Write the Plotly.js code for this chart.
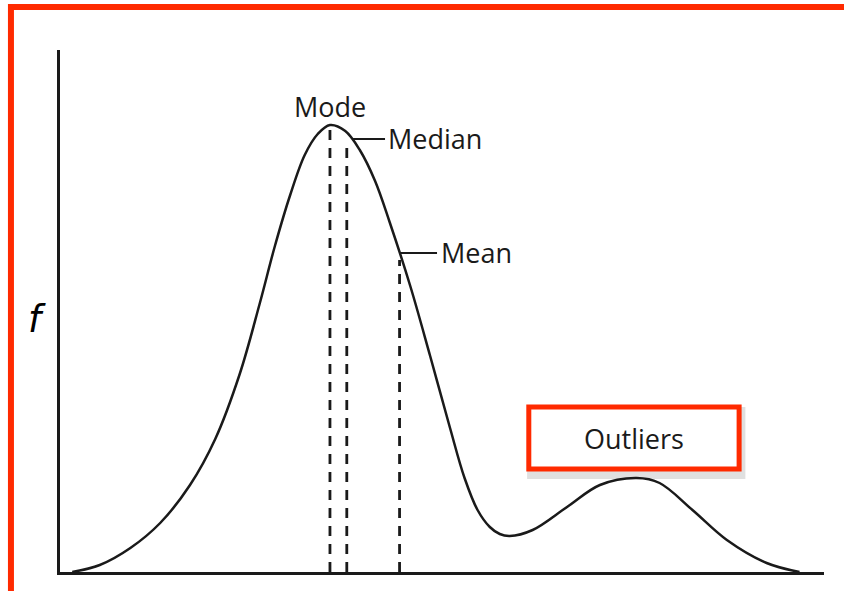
<!DOCTYPE html>
<html>
<head>
<meta charset="utf-8">
<script src="https://cdn.plot.ly/plotly-3.0.1.min.js"></script>
<style>
  html, body { margin: 0; padding: 0; background: #ffffff; }
  #chart { width: 844px; height: 591px; }
</style>
</head>
<body>
<div id="chart"></div>
<script>
// Density curve (x: value, y: density f)
const curveX = [0.16, 0.52, 0.92, 1.31, 1.70, 2.03, 2.35, 2.61, 2.81, 3.01, 3.20, 3.37, 3.53,
                3.73, 3.92, 4.12, 4.31, 4.58, 4.84, 5.10, 5.29, 5.46, 5.62, 5.75, 5.88,
                6.18, 6.63, 7.06, 7.54, 7.84, 8.27, 8.72, 9.24, 9.67];
const curveY = [0.000, 0.007, 0.024, 0.049, 0.087, 0.133, 0.198, 0.268, 0.326, 0.377, 0.417, 0.438, 0.447,
                0.441, 0.422, 0.391, 0.350, 0.286, 0.216, 0.144, 0.094, 0.062, 0.045, 0.038, 0.036,
                0.042, 0.065, 0.087, 0.094, 0.089, 0.062, 0.032, 0.009, 0.000];

// Central-tendency markers
const markerNames = ["Mode", "Median", "Mean"];
const markerX = [3.53, 3.75, 4.44];
const markerTop = [0.445, 0.425, 0.312];

// Label leader lines (Median, Mean)
const medianTickX = [3.82, 4.25];
const medianTickY = [0.433, 0.433];
const meanTickX = [4.44, 4.93];
const meanTickY = [0.319, 0.319];

// Outliers callout box (data coords)
const outlierBoxX = [6.13, 8.88];
const outlierBoxY = [0.103, 0.165];

const ink = "#1a1a1a";
const red = "#ff2a00";
const font = "'Open Sans', 'Noto Sans', sans-serif";

const traces = [
  {
    x: curveX, y: curveY, type: "scatter", mode: "lines",
    line: { color: ink, width: 2.5, shape: "spline", smoothing: 1 },
    cliponaxis: false, hoverinfo: "skip"
  }
];
markerX.forEach((mx, i) => {
  traces.push({
    x: [mx, mx], y: [0, markerTop[i]], type: "scatter", mode: "lines",
    name: markerNames[i],
    line: { color: ink, width: 2.8, dash: "10px,8px" },
    cliponaxis: false, hoverinfo: "skip"
  });
});
traces.push({
  x: medianTickX, y: medianTickY, type: "scatter", mode: "lines",
  line: { color: ink, width: 2 }, hoverinfo: "skip"
});
traces.push({
  x: meanTickX, y: meanTickY, type: "scatter", mode: "lines",
  line: { color: ink, width: 2 }, hoverinfo: "skip"
});

const layout = {
  width: 844, height: 591,
  margin: { l: 60, r: 20, t: 50, b: 19, pad: 0 },
  paper_bgcolor: "#ffffff", plot_bgcolor: "#ffffff",
  showlegend: false,
  xaxis: {
    range: [0, 9.99], showgrid: false, zeroline: false, showticklabels: false, ticks: "",
    showline: true, linecolor: ink, linewidth: 3, fixedrange: true
  },
  yaxis: {
    range: [0, 0.522], showgrid: false, zeroline: false, showticklabels: false, ticks: "",
    showline: true, linecolor: ink, linewidth: 3, fixedrange: true
  },
  annotations: [
    { x: markerX[0], y: markerTop[0], xref: "x", yref: "y", text: "Mode", showarrow: false,
      xanchor: "center", yanchor: "bottom", yshift: 0, font: { family: font, size: 27, color: ink } },
    { x: medianTickX[1], y: medianTickY[1], xref: "x", yref: "y", text: "Median", showarrow: false,
      xanchor: "left", yanchor: "middle", xshift: 1, yshift: 1, font: { family: font, size: 27, color: ink } },
    { x: meanTickX[1], y: meanTickY[1], xref: "x", yref: "y", text: "Mean", showarrow: false,
      xanchor: "left", yanchor: "middle", xshift: 2, yshift: 1, font: { family: font, size: 27, color: ink } },
    { x: (outlierBoxX[0] + outlierBoxX[1]) / 2, y: (outlierBoxY[0] + outlierBoxY[1]) / 2,
      xref: "x", yref: "y", text: "Outliers", showarrow: false,
      xanchor: "center", yanchor: "middle", font: { family: font, size: 27, color: ink } },
    { x: 0, y: 0.5, xref: "paper", yref: "paper", text: "<i>f</i>", showarrow: false,
      xanchor: "center", yanchor: "middle", xshift: -23, yshift: -8,
      font: { family: "'DejaVu Sans', sans-serif", size: 37, color: "#000" } }
  ],
  shapes: [
    // soft shadow behind the callout
    { type: "rect", xref: "x", yref: "y", x0: outlierBoxX[0] + 0.03, x1: outlierBoxX[1] + 0.03,
      y0: outlierBoxY[0] - 0.006, y1: outlierBoxY[1] - 0.004,
      line: { color: "rgba(0,0,0,0.12)", width: 8 }, fillcolor: "rgba(0,0,0,0)", layer: "below" },
    { type: "rect", xref: "x", yref: "y", x0: outlierBoxX[0], x1: outlierBoxX[1],
      y0: outlierBoxY[0], y1: outlierBoxY[1],
      line: { color: red, width: 5 }, fillcolor: "#ffffff", layer: "below" },
    // outer red frame (extends past the right and bottom edges)
    { type: "rect", xref: "paper", yref: "paper", x0: -0.0642, x1: 1.04, y0: -0.06, y1: 1.0824,
      line: { color: red, width: 6 }, fillcolor: "rgba(0,0,0,0)" }
  ]
};

Plotly.newPlot("chart", traces, layout, { staticPlot: true, displayModeBar: false });
</script>
</body>
</html>
